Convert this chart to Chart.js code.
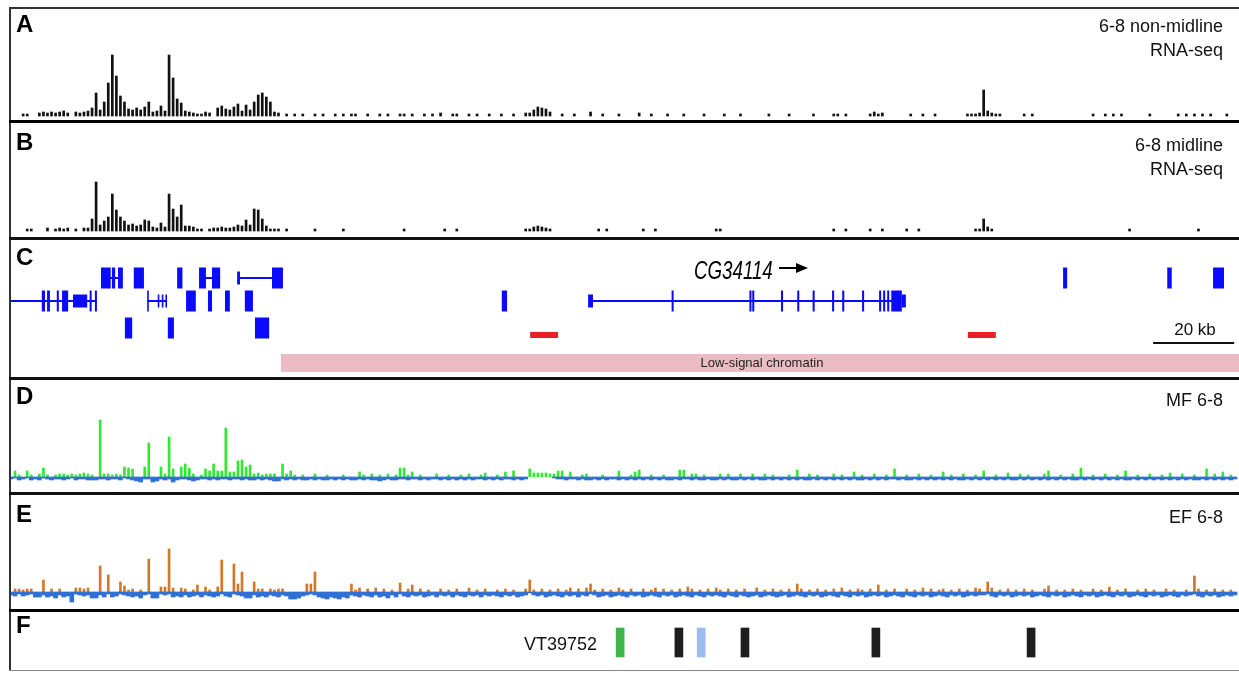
<!DOCTYPE html>
<html>
<head>
<meta charset="utf-8">
<title>Genome browser tracks</title>
<script src="https://cdn.jsdelivr.net/npm/chart.js@4.4.0/dist/chart.umd.min.js"></script>
<style>
  html, body { margin: 0; padding: 0; background: #fff; }
  #fig { position: relative; width: 1239px; height: 673px; overflow: hidden;
         font-family: "Liberation Sans", Arial, sans-serif; color: #111; }
  #fig canvas { position: absolute; }
  .rule { position: absolute; }
  .lbl { position: absolute; line-height: 1; white-space: nowrap; }
</style>
</head>
<body>
<div id="fig"></div>
<script>
// ==============================
// DATA (region ~303 kb, 1 kb bins)
// ==============================
const KB_MAX = 303;

// A: 6-8 non-midline RNA-seq coverage
const rnaNonMidline = [
  0,0,0,2,2,0,0,3,4,3,
  4,3,4,5,3,0,4,3,4,5,
  8,23,6,14,33,61,40,20,14,7,
  6,8,6,9,14,4,5,10,5,61,
  38,17,13,5,4,3,2,2,4,3,
  0,8,10,7,6,9,12,5,11,6,
  14,21,23,19,14,4,3,0,2,0,
  2,0,2,0,0,2,0,2,0,0,
  2,0,2,0,2,2,0,0,2,0,
  0,2,0,2,0,0,2,2,0,2,
  0,0,2,0,2,0,3,0,0,2,
  2,0,0,2,0,2,0,0,2,0,
  0,2,0,0,2,0,0,3,3,6,
  9,8,7,4,0,0,2,0,0,2,
  0,0,0,4,0,0,2,0,0,0,
  2,0,0,0,0,3,0,0,2,0,
  0,0,2,0,0,0,2,0,0,0,
  0,2,0,0,0,0,2,0,0,0,
  2,0,0,0,0,0,0,2,0,0,
  0,0,2,0,0,0,0,0,2,0,
  0,0,0,2,2,0,2,0,0,0,
  0,0,2,4,2,3,0,0,0,0,
  0,0,2,0,0,2,0,0,2,0,
  0,0,0,0,0,0,2,2,2,3,
  26,5,3,2,2,0,0,0,0,0,
  2,0,2,0,0,0,0,0,0,0,
  0,0,0,0,0,0,0,2,0,0,
  2,0,2,0,2,0,0,0,0,0,
  0,2,0,0,0,0,0,0,2,0,
  2,0,2,0,2,0,2,0,0,0,
  2,0,0
];

// B: 6-8 midline RNA-seq coverage
const rnaMidline = [
  0,0,0,0,2,2,0,0,0,3,
  0,2,3,2,3,0,2,0,3,3,
  12,49,6,10,14,37,21,14,10,6,
  7,5,6,11,10,4,3,8,4,37,
  22,14,26,5,5,4,2,2,0,2,
  3,3,4,3,3,4,6,5,11,6,
  22,21,12,5,2,2,2,0,2,0,
  0,0,0,0,0,2,0,0,0,0,
  0,0,2,0,0,0,0,0,0,0,
  0,0,0,0,0,0,0,2,0,0,
  0,0,0,0,0,0,0,2,0,0,
  2,0,0,0,0,0,0,0,0,0,
  0,0,0,0,0,0,0,2,2,4,
  5,4,3,2,0,0,0,0,0,0,
  0,0,0,0,0,2,0,2,0,0,
  0,0,0,0,0,0,2,0,0,2,
  0,0,0,0,0,0,0,0,0,0,
  0,0,0,0,2,2,0,0,0,0,
  0,0,0,0,0,0,0,0,0,0,
  0,0,0,0,0,0,0,0,0,0,
  0,0,0,2,0,0,2,0,0,0,
  0,0,2,0,0,2,0,0,0,0,
  0,2,0,0,2,0,0,0,0,0,
  0,0,0,0,0,0,0,0,2,2,
  12,4,2,0,0,0,0,0,0,0,
  0,0,0,0,0,0,0,0,0,0,
  0,0,0,0,0,0,0,0,0,0,
  0,0,0,0,0,0,2,0,0,0,
  0,0,0,0,0,0,0,0,0,0,
  0,0,0,2,0,0,0,0,0,0,
  0,0,0
];

// D: MF 6-8 signal, above / below zero
const mfUp = [
  0,6,2,0,6,2,0,3,9,2,
  0,2,3,3,2,3,2,3,4,3,
  2,0,57,3,3,2,3,2,10,9,
  8,0,0,10,34,0,0,10,3,40,
  8,0,10,13,9,3,0,2,8,6,
  13,6,6,49,5,5,16,17,10,12,
  3,4,2,3,3,3,0,13,3,6,
  2,0,2,0,0,3,0,0,2,0,
  0,0,2,0,0,0,5,2,0,3,
  0,2,0,3,0,2,9,9,2,5,
  0,2,0,0,0,3,0,0,2,0,
  0,2,0,3,0,0,2,4,0,0,
  2,0,5,0,6,0,0,0,8,4,
  4,4,4,3,3,6,6,0,5,0,
  0,2,3,0,0,0,2,0,0,0,
  6,0,0,2,5,7,0,0,2,0,
  0,2,0,0,0,7,7,0,3,3,
  0,2,0,0,0,3,0,3,0,0,
  3,0,0,3,0,0,3,0,2,0,
  0,0,2,0,7,0,0,3,0,2,
  0,0,0,3,0,2,0,0,5,0,
  2,0,0,3,0,0,2,0,8,0,
  0,2,0,0,3,0,0,2,0,0,
  5,0,2,0,0,3,0,0,2,0,
  6,0,0,2,0,0,4,0,0,3,
  0,2,0,0,0,3,6,0,0,2,
  0,0,3,0,9,0,0,2,0,0,
  3,0,0,2,0,6,0,0,2,0,
  0,3,0,0,2,0,4,0,0,3,
  0,0,2,0,0,8,0,3,0,5,
  0,2,0
];
const mfDown = [
  -2,-1,-3,-2,-1,-3,-2,-3,-1,-2,
  -3,-2,-2,-3,-2,-1,-3,-2,-2,-3,
  -3,-3,-2,-2,-3,-2,-2,-3,-1,-2,
  -3,-4,-5,-2,-2,-5,-4,-2,-3,-2,
  -5,-3,-2,-2,-3,-4,-3,-2,-2,-3,
  -2,-3,-2,-2,-3,-2,-2,-3,-2,-3,
  -3,-2,-3,-2,-3,-4,-4,-2,-3,-2,
  -3,-2,-3,-3,-2,-3,-2,-3,-3,-2,
  -3,-2,-3,-2,-3,-3,-2,-3,-2,-3,
  -3,-4,-3,-2,-3,-3,-2,-2,-3,-2,
  -2,-3,-2,-3,-2,-2,-3,-2,-3,-2,
  -3,-2,-3,-2,-3,-2,-2,-3,-2,-3,
  -2,-3,-2,-2,-3,-2,-3,-2,0,0,
  0,0,0,0,-1,-2,-2,-3,-2,-2,
  -3,-2,-3,-3,-2,-3,-2,-3,-2,-2,
  -3,-2,-3,-2,-3,-2,-3,-2,-3,-2,
  -3,-2,-3,-3,-2,-3,-2,-2,-3,-2,
  -3,-3,-2,-3,-3,-2,-3,-2,-3,-3,
  -2,-3,-2,-3,-2,-3,-3,-2,-3,-2,
  -3,-2,-3,-2,-3,-2,-3,-3,-2,-3,
  -2,-3,-2,-3,-2,-3,-2,-3,-2,-3,
  -3,-2,-3,-2,-3,-2,-3,-2,-2,-3,
  -2,-3,-3,-2,-3,-2,-3,-2,-3,-2,
  -3,-2,-3,-2,-3,-3,-2,-3,-2,-3,
  -2,-3,-2,-3,-2,-3,-2,-3,-3,-2,
  -3,-2,-3,-2,-3,-2,-3,-2,-3,-2,
  -3,-2,-3,-3,-2,-3,-2,-3,-2,-3,
  -2,-3,-2,-3,-2,-3,-3,-2,-3,-2,
  -3,-2,-3,-2,-3,-2,-3,-2,-3,-2,
  -3,-2,-3,-3,-2,-3,-2,-3,-2,-3,
  -2,-3,-2
];

// E: EF 6-8 signal, above / below zero
const efUp = [
  0,3,3,2,3,3,0,0,12,0,
  3,0,3,0,0,0,4,4,3,4,
  0,0,26,0,17,0,0,10,6,2,
  3,0,2,0,33,0,0,5,5,43,
  4,0,4,3,0,2,7,0,5,2,
  0,5,32,0,0,28,8,20,0,0,
  10,3,3,0,3,2,3,3,0,0,
  0,0,0,8,8,20,0,0,0,0,
  0,0,0,0,8,2,4,0,3,0,
  4,0,3,0,2,0,9,0,3,7,
  0,3,0,2,0,0,3,0,2,0,
  3,0,0,4,0,2,0,3,0,0,
  2,0,3,0,2,0,0,3,12,2,
  0,3,0,2,0,3,0,2,4,0,
  3,0,4,8,2,0,3,0,2,0,
  4,2,0,3,0,0,3,0,2,4,
  0,3,0,2,0,3,0,5,3,0,
  2,0,3,0,4,2,0,3,0,2,
  0,3,0,0,4,0,2,0,3,0,
  2,0,3,0,8,3,0,2,0,3,
  0,2,0,3,0,4,0,2,0,3,
  2,0,3,0,7,0,2,0,3,0,
  0,3,0,2,0,4,0,3,0,2,
  3,0,2,0,3,0,2,0,4,3,
  0,10,4,0,2,0,3,0,2,0,
  3,0,2,0,0,3,6,0,2,0,
  2,0,3,0,2,0,0,3,0,2,
  0,5,0,2,0,3,0,0,2,0,
  3,0,2,0,0,3,0,2,0,0,
  2,0,16,3,0,2,0,3,0,2,
  0,2,0
];
const efDown = [
  -3,-4,-2,-4,-3,-2,-5,-5,-3,-5,
  -4,-6,-3,-5,-4,-10,-2,-3,-4,-3,
  -6,-6,-3,-5,-2,-5,-4,-2,-3,-4,
  -5,-4,-6,-3,-2,-6,-6,-2,-3,-2,
  -5,-4,-5,-3,-5,-4,-3,-5,-3,-4,
  -5,-4,-2,-4,-5,-2,-3,-4,-6,-6,
  -3,-5,-4,-5,-3,-4,-5,-3,-4,-7,
  -7,-6,-4,-3,-2,-3,-5,-6,-7,-5,
  -6,-7,-5,-6,-3,-4,-5,-3,-4,-5,
  -3,-5,-4,-6,-3,-5,-2,-4,-5,-3,
  -4,-3,-5,-4,-3,-5,-3,-4,-3,-5,
  -3,-4,-5,-3,-4,-3,-5,-3,-4,-3,
  -4,-5,-3,-4,-3,-5,-4,-3,-1,-3,
  -4,-3,-5,-4,-3,-4,-5,-3,-4,-3,
  -5,-3,-4,-2,-3,-5,-4,-3,-5,-4,
  -3,-4,-5,-3,-4,-3,-5,-4,-3,-4,
  -5,-3,-4,-3,-5,-4,-3,-4,-5,-3,
  -4,-5,-3,-4,-3,-4,-5,-3,-4,-5,
  -3,-4,-5,-4,-3,-5,-4,-3,-4,-5,
  -4,-3,-5,-4,-3,-4,-5,-3,-4,-3,
  -5,-4,-3,-4,-5,-3,-4,-5,-3,-4,
  -3,-5,-4,-3,-4,-3,-5,-4,-3,-4,
  -5,-3,-4,-5,-3,-4,-3,-5,-4,-3,
  -4,-5,-3,-4,-3,-5,-4,-3,-4,-3,
  -3,-2,-4,-5,-3,-4,-3,-5,-4,-3,
  -4,-3,-5,-4,-3,-4,-5,-3,-4,-3,
  -5,-4,-3,-4,-5,-3,-4,-3,-5,-4,
  -3,-4,-5,-3,-4,-3,-5,-4,-3,-4,
  -5,-3,-4,-3,-5,-4,-3,-4,-5,-3,
  -4,-3,-2,-4,-5,-3,-4,-3,-5,-4,
  -3,-4,-3
];

// C: gene models [row, start kb, end kb]
const introns = [
  [1, 22.2, 27.6], [1, 46.4, 51.6], [1, 56.5, 64.4],
  [2, 0, 21.2], [2, 33.6, 38.5], [2, 143.6, 217.7]
];
const exonsCoding = [
  [1, 22.2, 24.6], [1, 24.9, 25.7], [1, 26.4, 27.6],
  [1, 30.3, 32.8], [1, 41.0, 42.3], [1, 46.4, 48.1],
  [1, 49.6, 51.6], [1, 64.4, 67.1],
  [1, 259.6, 260.6], [1, 285.3, 286.4], [1, 296.6, 299.3],
  [2, 7.6, 8.4], [2, 8.9, 9.6], [2, 11.3, 11.8], [2, 12.6, 14.1],
  [2, 19.4, 19.9], [2, 20.7, 21.2], [2, 33.6, 34.0], [2, 43.2, 45.6],
  [2, 48.6, 49.6], [2, 52.8, 54.0], [2, 57.7, 59.7], [2, 121.1, 122.4],
  [2, 163.0, 163.5], [2, 182.2, 182.7], [2, 182.9, 183.4], [2, 190.0, 190.5],
  [2, 194.0, 194.5], [2, 197.8, 198.3], [2, 202.6, 203.1], [2, 205.1, 205.6],
  [2, 210.0, 210.5], [2, 214.2, 214.7], [2, 215.2, 215.7], [2, 216.2, 216.7],
  [2, 217.2, 219.8],
  [3, 28.1, 29.9], [3, 38.7, 40.2], [3, 60.2, 63.7]
];
const exonsUtr = [
  [1, 55.8, 56.5], [2, 15.3, 18.8], [2, 36.2, 36.6], [2, 37.2, 37.6],
  [2, 38.1, 38.5], [2, 142.4, 143.6], [2, 219.8, 220.8]
];
const sitesRed = [[128.1, 135.0], [236.1, 243.0]];
const lowSignal = [[66.6, 303]];
const scaleBarKb = [[281.8, 301.8]];

// F: enhancer fragments
const vtPos = [150.3, 164.8, 170.3, 181.1, 213.4, 251.7];
const vtClass = ['active', 'inactive', 'weak', 'inactive', 'inactive', 'inactive'];

// ==============================
// LAYOUT
// ==============================
const fig = document.getElementById('fig');
const W = 1228, LEFT = 11;

// row centres inside panel C (px from panel top)
const ROW_Y = { 1: 38, 2: 61, 3: 88, site: 95, scale: 103, band: 123 };

const rules = [
  { x: 9, y: 7, w: 1230, h: 2, c: '#333' },
  { x: 9, y: 7, w: 2, h: 664, c: '#333' },
  { x: 9, y: 120, w: 1230, h: 3, c: '#000' },
  { x: 9, y: 237, w: 1230, h: 3, c: '#111' },
  { x: 9, y: 377, w: 1230, h: 3, c: '#111' },
  { x: 9, y: 492, w: 1230, h: 3, c: '#111' },
  { x: 9, y: 609, w: 1230, h: 3, c: '#000' },
  { x: 9, y: 670, w: 1230, h: 1, c: '#888' }
];
rules.forEach(r => {
  const d = document.createElement('div');
  d.className = 'rule';
  Object.assign(d.style, { left: r.x + 'px', top: r.y + 'px', width: r.w + 'px', height: r.h + 'px', background: r.c });
  fig.appendChild(d);
});

function addText(txt, o) {
  const d = document.createElement('div');
  d.className = 'lbl';
  d.textContent = txt;
  d.style.fontSize = o.size + 'px';
  d.style.top = (o.base - 0.8465 * o.size) + 'px';
  if (o.bold) d.style.fontWeight = 'bold';
  if (o.italic) d.style.fontStyle = 'italic';
  if (o.color) d.style.color = o.color;
  if (o.align === 'right') d.style.right = (1239 - o.x) + 'px';
  else if (o.align === 'center') { d.style.left = o.x + 'px'; d.style.transform = 'translateX(-50%)'; }
  else d.style.left = o.x + 'px';
  fig.appendChild(d);
  return d;
}

function makeCanvas(top, height) {
  const c = document.createElement('canvas');
  c.width = W; c.height = height;
  c.style.left = LEFT + 'px'; c.style.top = top + 'px';
  fig.appendChild(c);
  return c;
}

function baseOptions(yMin, yMax, reverse) {
  return {
    responsive: false,
    animation: false,
    devicePixelRatio: 1,
    layout: { padding: 0 },
    plugins: { legend: { display: false }, tooltip: { enabled: false } },
    scales: {
      x: { type: 'linear', min: 0, max: KB_MAX, offset: false, display: false },
      y: { type: 'linear', min: yMin, max: yMax, reverse: !!reverse, display: false }
    }
  };
}

function binned(values) {
  const pts = [];
  values.forEach((v, i) => { if (v) pts.push({ x: i, y: v }); });
  return pts;
}

function barSet(values, color, thick) {
  return { data: binned(values), backgroundColor: color, borderWidth: 0,
           barThickness: thick, grouped: false };
}

// ==============================
// SIGNAL TRACKS
// ==============================
new Chart(makeCanvas(9, 111), {
  type: 'bar',
  data: { datasets: [barSet(rnaNonMidline, '#111', 2)] },
  options: baseOptions(-4, 107)
});

new Chart(makeCanvas(123, 114), {
  type: 'bar',
  data: { datasets: [barSet(rnaMidline, '#111', 2)] },
  options: baseOptions(-6, 108)
});

new Chart(makeCanvas(380, 112), {
  type: 'bar',
  data: { datasets: [barSet(mfDown, '#2f6fd6', 4), barSet(mfUp, '#33e833', 2)] },
  options: baseOptions(-15, 97)
});

new Chart(makeCanvas(495, 114), {
  type: 'bar',
  data: { datasets: [barSet(efDown, '#2f6fd6', 4), barSet(efUp, '#d2782a', 2)] },
  options: baseOptions(-17, 97)
});

// ==============================
// GENE TRACK (C)
// ==============================
function segs(list) {
  const pts = [];
  list.forEach(([row, s, e]) => {
    const y = ROW_Y[row];
    pts.push({ x: s, y }, { x: e, y }, { x: e, y: null });
  });
  return pts;
}
function lineSet(pts, color, width) {
  return { data: pts, borderColor: color, borderWidth: width, pointRadius: 0,
           borderCapStyle: 'butt', tension: 0, fill: false, spanGaps: false };
}

new Chart(makeCanvas(240, 137), {
  type: 'line',
  data: {
    datasets: [
      lineSet(segs(lowSignal.map(([s, e]) => ['band', s, e])), '#ebbcc4', 18),
      lineSet(segs(introns), '#0a0aff', 2),
      lineSet(segs(exonsUtr), '#0a0aff', 13),
      lineSet(segs(exonsCoding), '#0a0aff', 21),
      lineSet(segs(sitesRed.map(([s, e]) => ['site', s, e])), '#e8202a', 6),
      lineSet(segs(scaleBarKb.map(([s, e]) => ['scale', s, e])), '#111', 2)
    ]
  },
  options: baseOptions(0, 137, true)
});

// ==============================
// FRAGMENT TRACK (F)
// ==============================
const vtColors = { active: '#3db54a', inactive: '#1e1e1e', weak: '#9cbcf0' };
new Chart(makeCanvas(612, 58), {
  type: 'bar',
  data: {
    datasets: [{
      data: vtPos.map(x => ({ x, y: 1 })),
      backgroundColor: vtClass.map(k => vtColors[k]),
      borderWidth: 0, barThickness: 8
    }]
  },
  options: baseOptions(-0.448, 1.552)
});

// ==============================
// TEXT
// ==============================
[['A', 32], ['B', 150], ['C', 265], ['D', 404], ['E', 522], ['F', 633]].forEach(([t, b]) =>
  addText(t, { x: 16, base: b, size: 24, bold: true, color: '#000' }));

addText('6-8 non-midline', { x: 1223, base: 32, size: 18, align: 'right' });
addText('RNA-seq', { x: 1223, base: 56, size: 18, align: 'right' });
addText('6-8 midline', { x: 1223, base: 151, size: 18, align: 'right' });
addText('RNA-seq', { x: 1223, base: 175, size: 18, align: 'right' });
addText('MF 6-8', { x: 1223, base: 406, size: 18, align: 'right' });
addText('EF 6-8', { x: 1223, base: 523, size: 18, align: 'right' });

const gene = addText('CG34114', { x: 694, base: 279, size: 26, italic: true, color: '#000' });
gene.style.transform = 'scaleX(0.72)';
gene.style.transformOrigin = 'left top';
const shaft = document.createElement('div');
Object.assign(shaft.style, { position: 'absolute', left: '779px', top: '267px', width: '20px', height: '2px', background: '#000' });
fig.appendChild(shaft);
const head = document.createElement('div');
Object.assign(head.style, { position: 'absolute', left: '796px', top: '263px', width: 0, height: 0,
  borderTop: '5px solid transparent', borderBottom: '5px solid transparent', borderLeft: '12px solid #000' });
fig.appendChild(head);

addText('20 kb', { x: 1195, base: 335, size: 17, align: 'center' });
addText('Low-signal chromatin', { x: 762, base: 367, size: 13, align: 'center', color: '#222' });
addText('VT39752', { x: 597, base: 650, size: 18, align: 'right' });
</script>
</body>
</html>
